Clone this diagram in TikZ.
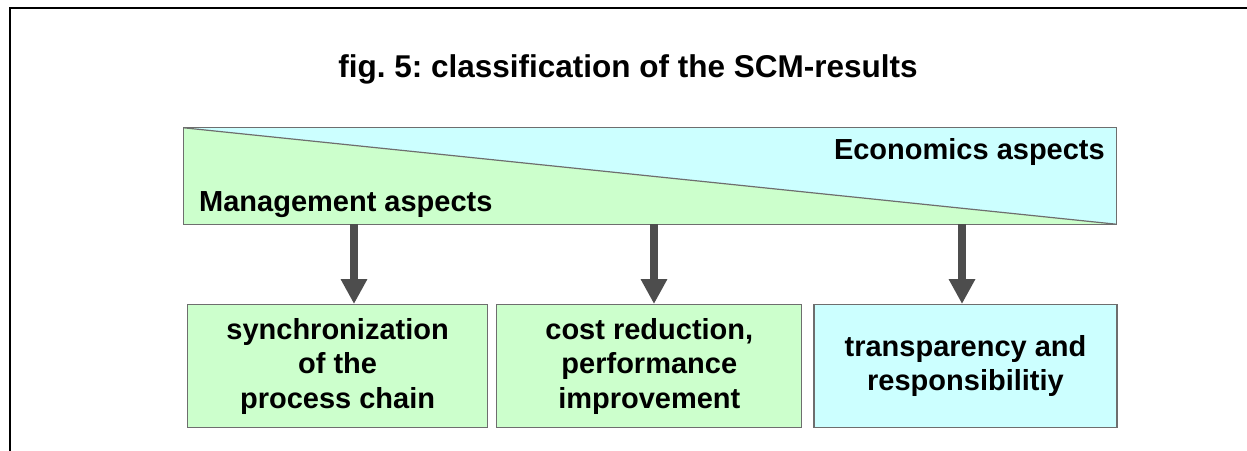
\documentclass[tikz,border=0pt]{standalone}
\usepackage{fontspec}
\setmainfont{Liberation Sans}
\frenchspacing
\usetikzlibrary{arrows.meta,positioning,calc}
\definecolor{mgmtgreen}{HTML}{CCFFCC}
\definecolor{econcyan}{HTML}{CCFFFF}
\definecolor{edgegray}{HTML}{6E6E6E}
\definecolor{arrowgray}{HTML}{4D4D4D}
\tikzstyle{result} = [draw=edgegray, line width=1.2pt, rectangle, align=center,
minimum height=123pt, font=\bfseries\fontsize{29}{34.5}\selectfont, inner sep=0pt]
\tikzstyle{aspect} = [inner sep=0pt, font=\bfseries\fontsize{29}{34.5}\selectfont]
\tikzstyle{down} = [arrowgray, line width=8pt, -{Triangle[width=25pt,length=25pt]}]

\begin{document}
\begin{tikzpicture}[x=1pt, y=-1pt]
	\useasboundingbox (0,0) rectangle (1247,450);
	\draw [line width=2.8pt] (10,452) -- (10,8) -- (1249,8);
	\node [font=\bfseries\fontsize{31.5}{36}\selectfont, anchor=base] (Title) at (628,77) {fig. 5: classification of the SCM-results};
	
	\node [rectangle, fill=econcyan, minimum width=932pt, minimum height=96pt, inner sep=0pt] (Bar) at (650,176) {};
	\fill [mgmtgreen] (Bar.north west) -- (Bar.south east) -- (Bar.south west) -- cycle;
	\draw [edgegray, line width=1.2pt] (Bar.north west) -- (Bar.south east);
	\draw [edgegray, line width=1.2pt] (Bar.north west) rectangle (Bar.south east);
	\node [aspect, anchor=base east] (Econ) at (1105,159) {Economics aspects};
	\node [aspect, anchor=base west] (Mgmt) at (199,211) {Management aspects};
	
	\node [result, fill=mgmtgreen, minimum width=300pt, anchor=north west] (Sync) at (187,304) {synchronization\\of the\\process chain};
	\node [result, fill=mgmtgreen, minimum width=305pt, right=8pt of Sync] (Cost) {cost reduction,\\performance\\improvement};
	\node [result, fill=econcyan, minimum width=303pt, right=11pt of Cost] (Trans) {transparency and\\responsibilitiy};
	
	\coordinate (a1) at (354,224);
	\coordinate (a2) at (654,224);
	\coordinate (a3) at (962,224);
	\draw [down] (a1) -- (a1 |- Sync.north);
	\draw [down] (a2) -- (a2 |- Cost.north);
	\draw [down] (a3) -- (a3 |- Trans.north);
	
\end{tikzpicture}
\end{document}
